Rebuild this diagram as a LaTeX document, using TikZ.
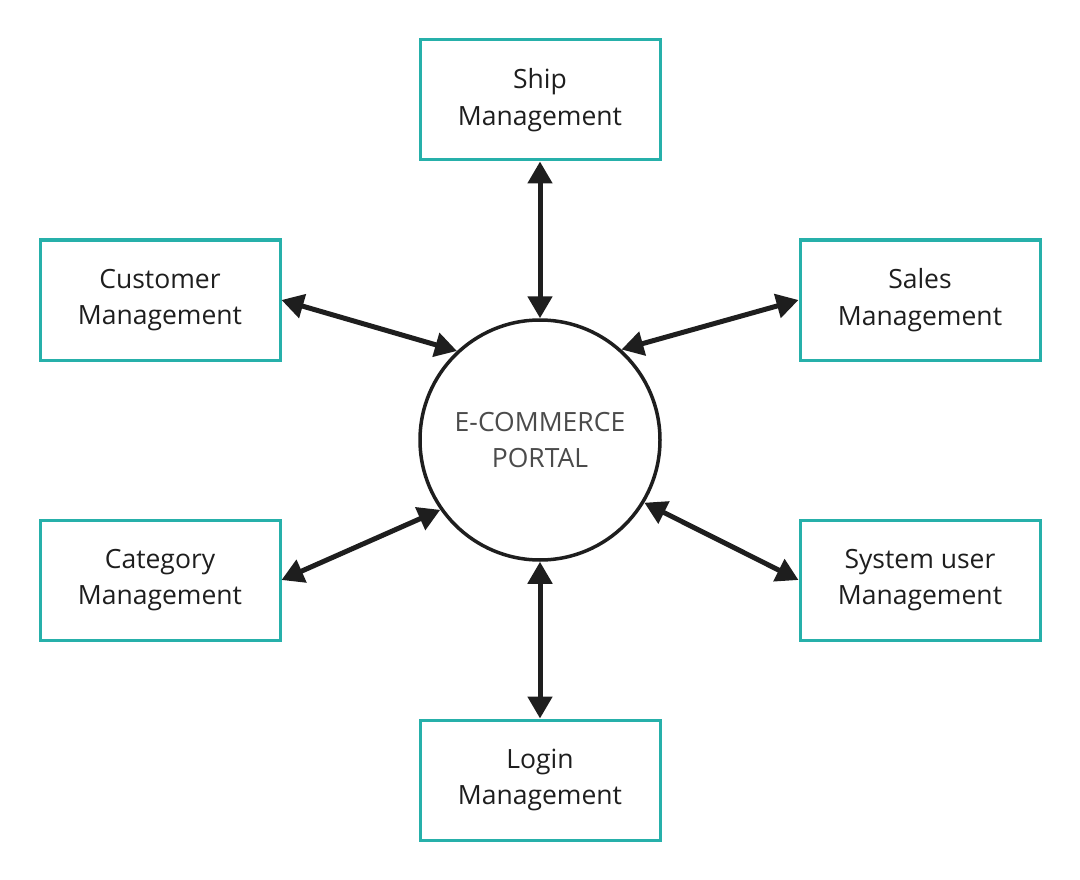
\documentclass[tikz,border=0pt]{standalone}
\usepackage{fontspec}
\setmainfont{Open Sans}
\usetikzlibrary{arrows.meta}
\definecolor{teal1}{RGB}{38,176,170}
\definecolor{ink}{RGB}{30,30,30}
\begin{document}
\begin{tikzpicture}[x=1pt,y=-1pt,
  mbox/.style={draw=teal1,line width=3pt,minimum width=240pt,minimum height=120pt,align=center,text=ink,font=\fontsize{26.5}{36.5}\selectfont,inner sep=0pt},
  conn/.style={draw=ink,line width=5pt,{Triangle[length=22pt,width=24pt]}-{Triangle[length=22pt,width=24pt]}}]
\useasboundingbox (0,0) rectangle (1080,880);
\node[draw=ink,line width=3.5pt,circle,minimum size=240pt,inner sep=0pt,align=center,text={rgb,255:red,75;green,75;blue,75},font=\fontsize{26.5}{36.5}\selectfont] (portal) at (540,440) {E-COMMERCE\\PORTAL};
\node[mbox] (ship) at (540,100) {Ship\\Management};
\node[mbox] (cust) at (160,300) {Customer\\Management};
\node[mbox] (sales) at (920,300) {Sales\\Management};
\node[mbox] (cat) at (160,580) {Category\\Management};
\node[mbox] (sys) at (920,580) {System user\\Management};
\node[mbox] (login) at (540,780) {Login\\Management};
\draw[conn] (ship.south) -- (portal.north);
\draw[conn] (login.north) -- (portal.south);
\draw[conn] (cust.east) -- (portal.133);
\draw[conn] (sales.west) -- (portal.48);
\draw[conn] (cat.east) -- (portal.215);
\draw[conn] (sys.west) -- (portal.-31);
\end{tikzpicture}
\end{document}
